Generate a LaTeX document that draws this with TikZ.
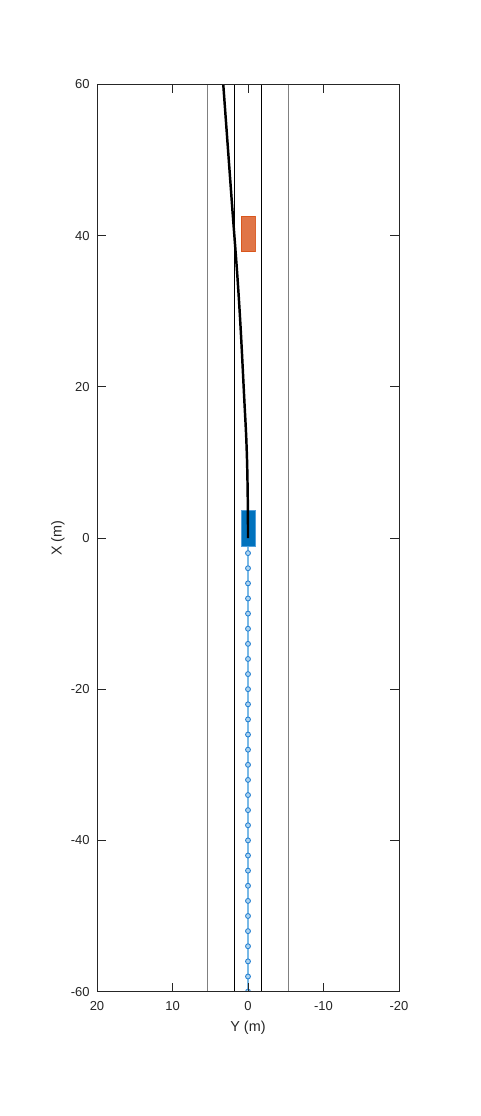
\documentclass[tikz,border=0pt]{standalone}
\usepackage{fontspec}
\setmainfont{Liberation Sans}
\definecolor{egoblue}{RGB}{0,114,189}
\definecolor{egoedge}{RGB}{80,160,220}
\definecolor{obsorange}{RGB}{217,83,25}
\definecolor{trailblue}{RGB}{120,185,230}
\definecolor{dotblue}{RGB}{40,130,210}
\definecolor{roadgray}{RGB}{128,128,128}
\begin{document}
\begin{tikzpicture}[
  font=\fontsize{7.4}{8}\selectfont,
  axisline/.style={draw=black!85,line width=0.45pt},
  tickmark/.style={draw=black!85,line width=0.45pt},
  laneinner/.style={draw=black,line width=0.5pt},
  laneouter/.style={draw=roadgray,line width=0.6pt},
  trail/.style={draw=trailblue,line width=1pt},
  trailmark/.style={circle,draw=dotblue,fill=trailblue!60,line width=0.5pt,inner sep=0pt,minimum size=2.8pt},
  egobox/.style={fill=egoblue,draw=egoedge,line width=0.5pt},
  obsbox/.style={fill=obsorange,fill opacity=0.8,draw=obsorange,draw opacity=0.9,line width=0.5pt},
  path/.style={draw=black,line width=1.4pt},
  ticklabel/.style={inner sep=0pt,text=black!85},
  axislabel/.style={inner sep=0pt,text=black!85,font=\fontsize{8.2}{9}\selectfont}
]
\useasboundingbox (0,0) rectangle (9.6,-22.32);
\fill[white] (0,0) rectangle (9.6,-22.32);
\begin{scope}[shift={(4.96,-10.76)},x=-0.151cm,y=0.1512cm]
  \begin{scope}
    \clip (20,-60) rectangle (-20,60);
    \draw[laneouter] (5.4,-60) -- (5.4,60);
    \draw[laneinner] (1.8,-60) -- (1.8,60);
    \draw[laneinner] (-1.8,-60) -- (-1.8,60);
    \draw[laneouter] (-5.4,-60) -- (-5.4,60);
    % trail
    \draw[trail] (0,0) -- (0,-60);
    \foreach \k in {2,4,...,60} {\node[trailmark] (m\k) at (0,-\k) {};}
    % obstacle
    \draw[obsbox] (0.93,37.84) rectangle (-0.93,42.6);
    % ego
    \draw[egobox] (0.93,-1.06) rectangle (-0.93,3.7);
    % planned path
    \draw[path] plot[smooth,tension=0.7] coordinates {(0,0) (0.03,5) (0.17,11.6) (0.49,18.3) (1.2,31.5) (2.16,44.7) (3.35,61)};
  \end{scope}
  \draw[axisline] (20,-60) rectangle (-20,60);
  \foreach \v/\l in {20/20,10/10,0/0,-10/-10,-20/-20} {
    \draw[tickmark] (\v,-60) -- ++(0,1.2);
    \draw[tickmark] (\v,60) -- ++(0,-1.2);
    \node[ticklabel,anchor=north] (yt\l) at ([yshift=-0.19cm]\v,-60) {\l};
  }
  \foreach \v in {-60,-40,-20,0,20,40,60} {
    \draw[tickmark] (20,\v) -- ++(-1.2,0);
    \draw[tickmark] (-20,\v) -- ++(1.2,0);
    \node[ticklabel,anchor=east] (xt\v) at ([xshift=-0.14cm]20,\v) {\v};
  }
  \node[axislabel,anchor=north] (ylab) at ([yshift=-0.58cm]0,-60) {Y (m)};
\end{scope}
\node[axislabel,rotate=90] (xlab) at (1.16,-10.76) {X (m)};
\end{tikzpicture}
\end{document}
